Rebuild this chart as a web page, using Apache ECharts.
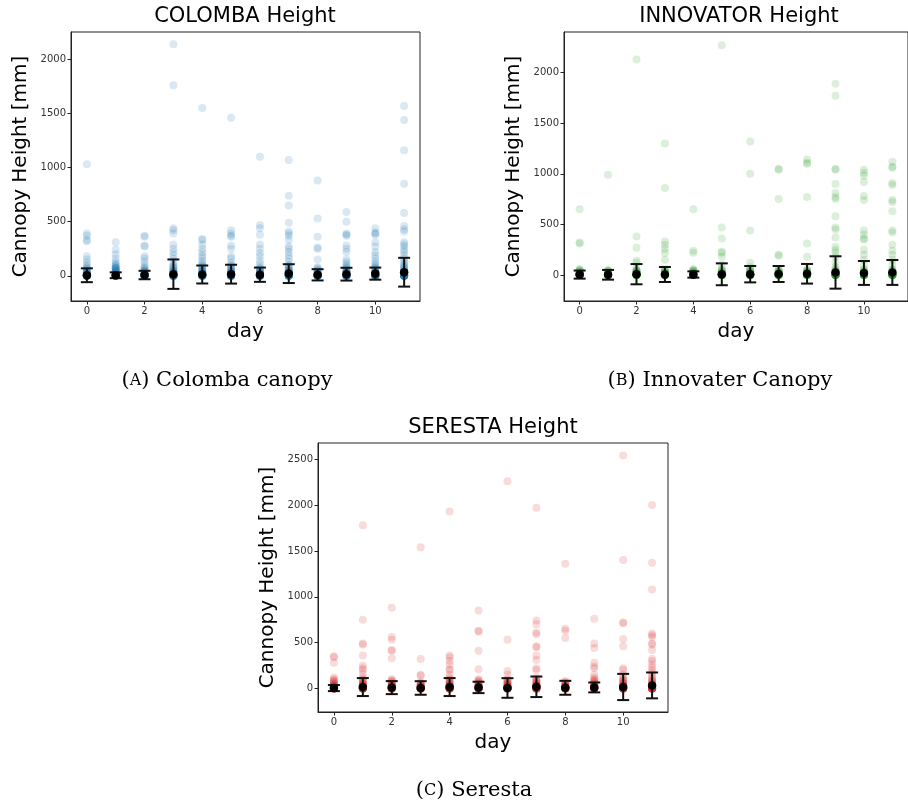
<!DOCTYPE html>
<html lang="en">
<head>
    <meta charset="UTF-8">
    <title>Cannopy Height</title>
    <script src="https://cdn.jsdelivr.net/npm/echarts@6/dist/echarts.min.js"></script>
</head>
<style>
    html, body { margin: 0; padding: 0; background: #fff; }
    #container { width: 908px; height: 812px; }
</style>
<body>
<div id="container"></div>
<script>
    // day index on the x axis
    var days = [0, 1, 2, 3, 4, 5, 6, 7, 8, 9, 10, 11];
    var xTicks = [0, 2, 4, 6, 8, 10];

    // individual plant heights per day (mm): visible outliers + the dense cluster near zero
    var colombaHeights = [
        [1030, 390, 370, 330, 320, 180, 150, 120, 100, 80, 70, 60, 50, 45, 40, 35, 30, 25, 20, 18, 15, 12, 10, 8, 6, 5, 4, 3, 2, 1, 0, 0, 0, 0, 0, 0, 0, 0, 0, 0, 0, 0],
        [310, 240, 200, 160, 130, 110, 100, 90, 80, 75, 70, 65, 60, 55, 50, 45, 40, 35, 30, 25, 20, 18, 15, 12, 10, 8, 6, 5, 4, 3, 2, 1, 0, 0, 0, 0, 0, 0, 0, 0, 0, 0, 0],
        [370, 360, 280, 270, 180, 160, 130, 100, 80, 70, 60, 50, 45, 40, 35, 30, 25, 20, 18, 15, 12, 10, 8, 6, 5, 4, 3, 2, 1, 0, 0, 0, 0, 0, 0, 0, 0, 0, 0, 0],
        [2140, 1760, 440, 420, 390, 290, 250, 220, 190, 160, 130, 100, 90, 80, 70, 60, 50, 45, 40, 35, 30, 25, 20, 18, 15, 12, 10, 8, 6, 5, 4, 3, 2, 1, 0, 0, 0, 0, 0, 0, 0, 0, 0, 0],
        [1550, 340, 330, 290, 250, 220, 190, 170, 140, 120, 100, 90, 80, 70, 60, 50, 45, 40, 35, 30, 25, 20, 18, 15, 12, 10, 8, 6, 5, 4, 3, 2, 1, 0, 0, 0, 0, 0, 0, 0, 0, 0, 0],
        [1460, 420, 390, 370, 360, 280, 250, 180, 160, 120, 100, 90, 80, 70, 60, 50, 45, 40, 35, 30, 25, 20, 18, 15, 12, 10, 8, 6, 5, 4, 3, 2, 1, 0, 0, 0, 0, 0, 0, 0, 0, 0, 0],
        [1100, 470, 440, 380, 290, 250, 210, 180, 140, 110, 80, 70, 60, 50, 45, 40, 35, 30, 25, 20, 18, 15, 12, 10, 8, 6, 5, 4, 3, 2, 1, 0, 0, 0, 0, 0, 0, 0, 0, 0, 0, 0],
        [1070, 740, 650, 490, 410, 390, 370, 330, 270, 250, 220, 190, 160, 130, 100, 90, 80, 70, 60, 50, 45, 40, 35, 30, 25, 20, 18, 15, 12, 10, 8, 6, 5, 4, 3, 2, 1, 0, 0, 0, 0, 0, 0, 0, 0, 0, 0],
        [880, 530, 360, 260, 250, 150, 80, 70, 60, 50, 40, 35, 30, 25, 20, 18, 15, 12, 10, 8, 6, 5, 4, 3, 2, 1, 0, 0, 0, 0, 0, 0, 0, 0, 0, 0],
        [590, 500, 390, 380, 370, 280, 250, 220, 150, 130, 110, 90, 80, 70, 60, 50, 45, 40, 35, 30, 25, 20, 18, 15, 12, 10, 8, 6, 5, 4, 3, 2, 1, 0, 0, 0, 0, 0, 0, 0, 0, 0, 0],
        [440, 400, 390, 380, 310, 270, 220, 190, 160, 130, 110, 90, 80, 70, 60, 50, 45, 40, 35, 30, 25, 20, 18, 15, 12, 10, 8, 6, 5, 4, 3, 2, 1, 0, 0, 0, 0, 0, 0, 0, 0, 0, 0],
        [1570, 1440, 1160, 850, 580, 460, 430, 410, 310, 290, 270, 240, 220, 190, 160, 140, 120, 100, 90, 80, 70, 60, 50, 45, 40, 35, 30, 25, 20, 18, 15, 12, 10, 8, 6, 5, 4, 3, 2, 1, 0, 0, 0, 0, 0, 0, 0, 0, 0, 0, 0]
    ];
    var colombaMean = [5, 5, 7, 15, 12, 15, 10, 20, 9, 15, 20, 33];
    var colombaStd = [64, 27, 39, 136, 83, 87, 66, 87, 52, 59, 56, 133];

    var innovatorHeights = [
        [650, 320, 310, 60, 50, 45, 40, 35, 30, 25, 20, 18, 15, 12, 10, 8, 6, 5, 4, 3, 2, 1, 0, 0, 0, 0, 0, 0, 0, 0, 0, 0],
        [990, 50, 45, 40, 35, 30, 25, 20, 18, 15, 12, 10, 8, 6, 5, 4, 3, 2, 1, 0, 0, 0, 0, 0, 0, 0, 0, 0, 0],
        [2130, 380, 270, 140, 120, 60, 50, 45, 40, 35, 30, 25, 20, 18, 15, 12, 10, 8, 6, 5, 4, 3, 2, 1, 0, 0, 0, 0, 0, 0, 0, 0, 0, 0],
        [1300, 860, 330, 300, 260, 220, 150, 60, 50, 40, 35, 30, 25, 20, 15, 12, 10, 8, 6, 5, 4, 3, 2, 1, 0, 0, 0, 0, 0, 0, 0, 0, 0],
        [650, 240, 220, 60, 50, 45, 40, 35, 30, 25, 20, 18, 15, 12, 10, 8, 6, 5, 4, 3, 2, 1, 0, 0, 0, 0, 0, 0, 0, 0, 0, 0],
        [2270, 470, 360, 230, 220, 180, 100, 60, 50, 40, 35, 30, 25, 20, 15, 12, 10, 8, 6, 5, 4, 3, 2, 1, 0, 0, 0, 0, 0, 0, 0, 0, 0, 0],
        [1320, 1000, 440, 120, 80, 60, 50, 40, 35, 30, 25, 20, 15, 12, 10, 8, 6, 5, 4, 3, 2, 1, 0, 0, 0, 0, 0, 0, 0, 0, 0, 0],
        [1050, 1040, 750, 200, 190, 60, 50, 40, 35, 30, 25, 20, 15, 12, 10, 8, 6, 5, 4, 3, 2, 1, 0, 0, 0, 0, 0, 0, 0, 0, 0, 0],
        [1140, 1110, 1100, 770, 310, 180, 60, 50, 40, 35, 30, 25, 20, 15, 12, 10, 8, 6, 5, 4, 3, 2, 1, 0, 0, 0, 0, 0, 0, 0, 0, 0, 0],
        [1890, 1770, 1050, 1040, 900, 810, 770, 750, 580, 470, 450, 370, 280, 250, 220, 180, 120, 80, 60, 50, 40, 35, 30, 25, 20, 15, 12, 10, 8, 6, 5, 4, 3, 2, 1, 0, 0, 0, 0, 0, 0, 0, 0, 0, 0, 0],
        [1040, 1010, 980, 920, 780, 740, 440, 400, 360, 350, 250, 200, 150, 100, 60, 50, 40, 35, 30, 25, 20, 15, 12, 10, 8, 6, 5, 4, 3, 2, 1, 0, 0, 0, 0, 0, 0, 0, 0, 0, 0, 0],
        [1120, 1070, 1060, 910, 890, 740, 720, 630, 440, 420, 300, 240, 200, 150, 100, 60, 50, 40, 35, 30, 25, 20, 15, 12, 10, 8, 6, 5, 4, 3, 2, 1, 0, 0, 0, 0, 0, 0, 0, 0, 0, 0, 0]
    ];
    var innovatorMean = [4, 2, 8, 5, 5, 7, 8, 10, 12, 25, 20, 25];
    var innovatorStd = [40, 48, 100, 74, 31, 108, 81, 79, 97, 160, 118, 123];

    var serestaHeights = [
        [350, 340, 280, 120, 100, 90, 80, 70, 60, 50, 45, 40, 35, 30, 25, 20, 18, 15, 12, 10, 8, 6, 5, 4, 3, 2, 1, 0, 0, 0, 0, 0, 0, 0, 0, 0, 0],
        [1780, 750, 490, 480, 360, 250, 220, 200, 160, 120, 100, 90, 80, 70, 60, 50, 45, 40, 35, 30, 25, 20, 18, 15, 12, 10, 8, 6, 5, 4, 3, 2, 1, 0, 0, 0, 0, 0, 0, 0, 0, 0, 0],
        [880, 560, 530, 420, 410, 330, 100, 90, 80, 70, 60, 50, 45, 40, 35, 30, 25, 20, 18, 15, 12, 10, 8, 6, 5, 4, 3, 2, 1, 0, 0, 0, 0, 0, 0, 0, 0, 0, 0],
        [1540, 320, 150, 140, 70, 60, 50, 45, 40, 35, 30, 25, 20, 18, 15, 12, 10, 8, 6, 5, 4, 3, 2, 1, 0, 0, 0, 0, 0, 0, 0, 0, 0, 0],
        [1930, 360, 340, 300, 260, 210, 200, 150, 120, 100, 90, 80, 70, 60, 50, 45, 40, 35, 30, 25, 20, 18, 15, 12, 10, 8, 6, 5, 4, 3, 2, 1, 0, 0, 0, 0, 0, 0, 0, 0, 0, 0],
        [850, 630, 620, 410, 210, 100, 90, 80, 70, 60, 50, 45, 40, 35, 30, 25, 20, 18, 15, 12, 10, 8, 6, 5, 4, 3, 2, 1, 0, 0, 0, 0, 0, 0, 0, 0, 0, 0],
        [2260, 530, 190, 150, 100, 90, 80, 70, 60, 50, 45, 40, 35, 30, 25, 20, 18, 15, 12, 10, 8, 6, 5, 4, 3, 2, 1, 0, 0, 0, 0, 0, 0, 0, 0, 0, 0],
        [1970, 740, 700, 610, 590, 460, 450, 360, 310, 220, 200, 120, 100, 90, 80, 70, 60, 50, 45, 40, 35, 30, 25, 20, 18, 15, 12, 10, 8, 6, 5, 4, 3, 2, 1, 0, 0, 0, 0, 0, 0, 0, 0, 0, 0],
        [1360, 650, 630, 550, 80, 70, 60, 50, 45, 40, 35, 30, 25, 20, 18, 15, 12, 10, 8, 6, 5, 4, 3, 2, 1, 0, 0, 0, 0, 0, 0, 0, 0, 0, 0],
        [760, 490, 440, 280, 240, 220, 150, 120, 100, 90, 80, 70, 60, 50, 45, 40, 35, 30, 25, 20, 18, 15, 12, 10, 8, 6, 5, 4, 3, 2, 1, 0, 0, 0, 0, 0, 0, 0, 0, 0, 0],
        [2540, 1400, 720, 710, 540, 460, 220, 200, 150, 120, 100, 90, 80, 70, 60, 50, 45, 40, 35, 30, 25, 20, 18, 15, 12, 10, 8, 6, 5, 4, 3, 2, 1, 0, 0, 0, 0, 0, 0, 0, 0, 0, 0],
        [2000, 1370, 1080, 600, 580, 560, 490, 480, 420, 320, 300, 260, 230, 200, 170, 140, 120, 100, 90, 80, 70, 60, 50, 45, 40, 35, 30, 25, 20, 18, 15, 12, 10, 8, 6, 5, 4, 3, 2, 1, 0, 0, 0, 0, 0, 0, 0, 0, 0, 0, 0]
    ];
    var serestaMean = [4, 15, 9, 5, 15, 11, 5, 18, 7, 11, 16, 33];
    var serestaStd = [33, 98, 71, 74, 98, 62, 107, 112, 76, 54, 143, 141];

    var yTicksAB = [0, 500, 1000, 1500, 2000];
    var yTicksC = [0, 500, 1000, 1500, 2000, 2500];

    var chart = echarts.init(document.getElementById('container'));

    var panels = [
        {heights: colombaHeights, mean: colombaMean, std: colombaStd, color: '#1f77b4',
            grid: {left: 71, top: 32, width: 349, height: 269}, yMin: -233, yMax: 2253, yTicks: yTicksAB},
        {heights: innovatorHeights, mean: innovatorMean, std: innovatorStd, color: '#2ca02c',
            grid: {left: 564, top: 32, width: 349, height: 269}, yMin: -257, yMax: 2401, yTicks: yTicksAB},
        {heights: serestaHeights, mean: serestaMean, std: serestaStd, color: '#d62728',
            grid: {left: 318, top: 443, width: 350, height: 269}, yMin: -257, yMax: 2677, yTicks: yTicksC}
    ];

    var grids = [], xAxes = [], yAxes = [], series = [];
    var plain = function (v) { return String(v); };

    panels.forEach(function (p, k) {
        grids.push(Object.assign({show: true, borderColor: '#222', borderWidth: 1, backgroundColor: '#fff'}, p.grid));
        xAxes.push({
            type: 'value', gridIndex: k, min: -0.55, max: 11.55,
            name: 'day', nameLocation: 'middle', nameGap: 21,
            nameTextStyle: {fontFamily: 'DejaVu Sans', fontSize: 20, color: '#000'},
            axisLine: {show: true, onZero: false, lineStyle: {color: '#222'}},
            axisTick: {show: true, inside: false, length: 3.5, customValues: xTicks, lineStyle: {color: '#222'}},
            axisLabel: {customValues: xTicks, formatter: plain, fontFamily: 'DejaVu Sans', fontSize: 10, color: '#333', margin: 5},
            splitLine: {show: false}
        });
        yAxes.push({
            type: 'value', gridIndex: k, min: p.yMin, max: p.yMax,
            name: 'Cannopy Height [mm]', nameLocation: 'middle', nameGap: 40, nameRotate: 90,
            nameTextStyle: {fontFamily: 'DejaVu Sans', fontSize: 20, color: '#000'},
            axisLine: {show: true, onZero: false, lineStyle: {color: '#222'}},
            axisTick: {show: true, inside: false, length: 3.5, customValues: p.yTicks, lineStyle: {color: '#222'}},
            axisLabel: {customValues: p.yTicks, formatter: plain, fontFamily: 'DejaVu Sans', fontSize: 10, color: '#333', margin: 5},
            splitLine: {show: false}
        });

        var pts = [];
        p.heights.forEach(function (list, i) {
            list.forEach(function (v) { pts.push([days[i], v]); });
        });
        series.push({
            type: 'scatter', xAxisIndex: k, yAxisIndex: k, data: pts,
            symbolSize: 8, itemStyle: {color: p.color, opacity: 0.17}, silent: true
        });

        var bars = days.map(function (d, i) { return [d, p.mean[i], p.std[i]]; });
        series.push({
            type: 'custom', xAxisIndex: k, yAxisIndex: k, data: bars, silent: true, z: 5,
            renderItem: function (params, api) {
                var x = api.value(0), m = api.value(1), s = api.value(2);
                var top = api.coord([x, m + s]);
                var bot = api.coord([x, m - s]);
                var w = 6;
                var st = {stroke: '#111', lineWidth: 2};
                return {
                    type: 'group', children: [
                        {type: 'line', shape: {x1: top[0], y1: top[1], x2: bot[0], y2: bot[1]}, style: st},
                        {type: 'line', shape: {x1: top[0] - w, y1: top[1], x2: top[0] + w, y2: top[1]}, style: st},
                        {type: 'line', shape: {x1: bot[0] - w, y1: bot[1], x2: bot[0] + w, y2: bot[1]}, style: st}
                    ]
                };
            }
        });
        series.push({
            type: 'scatter', xAxisIndex: k, yAxisIndex: k, z: 6,
            data: bars.map(function (b) { return [b[0], b[1]]; }),
            symbolSize: 8.5, itemStyle: {color: '#000', opacity: 1}, silent: true
        });
    });

    function titleText(txt, x, y) {
        return {type: 'text', x: x, y: y, style: {text: txt, font: '21px "DejaVu Sans"', fill: '#000',
            align: 'center', verticalAlign: 'middle'}};
    }
    function captionText(letter, rest, x, y) {
        return {type: 'text', x: x, y: y, style: {
            text: '(' + '{sc|' + letter + '}' + ') ' + rest,
            font: '21px "DejaVu Serif"', fill: '#000', align: 'center', verticalAlign: 'middle',
            rich: {sc: {fontFamily: 'DejaVu Serif', fontSize: 16, fill: '#000'}}
        }};
    }

    var option = {
        animation: false,
        backgroundColor: '#fff',
        grid: grids,
        xAxis: xAxes,
        yAxis: yAxes,
        series: series,
        graphic: [
            titleText('COLOMBA Height', 245, 17),
            titleText('INNOVATOR Height', 739, 17),
            titleText('SERESTA Height', 493, 428),
            captionText('A', 'Colomba canopy', 227, 381),
            captionText('B', 'Innovater Canopy', 720, 381),
            captionText('C', 'Seresta', 474, 791)
        ]
    };

    chart.setOption(option);
</script>
</body>
</html>
